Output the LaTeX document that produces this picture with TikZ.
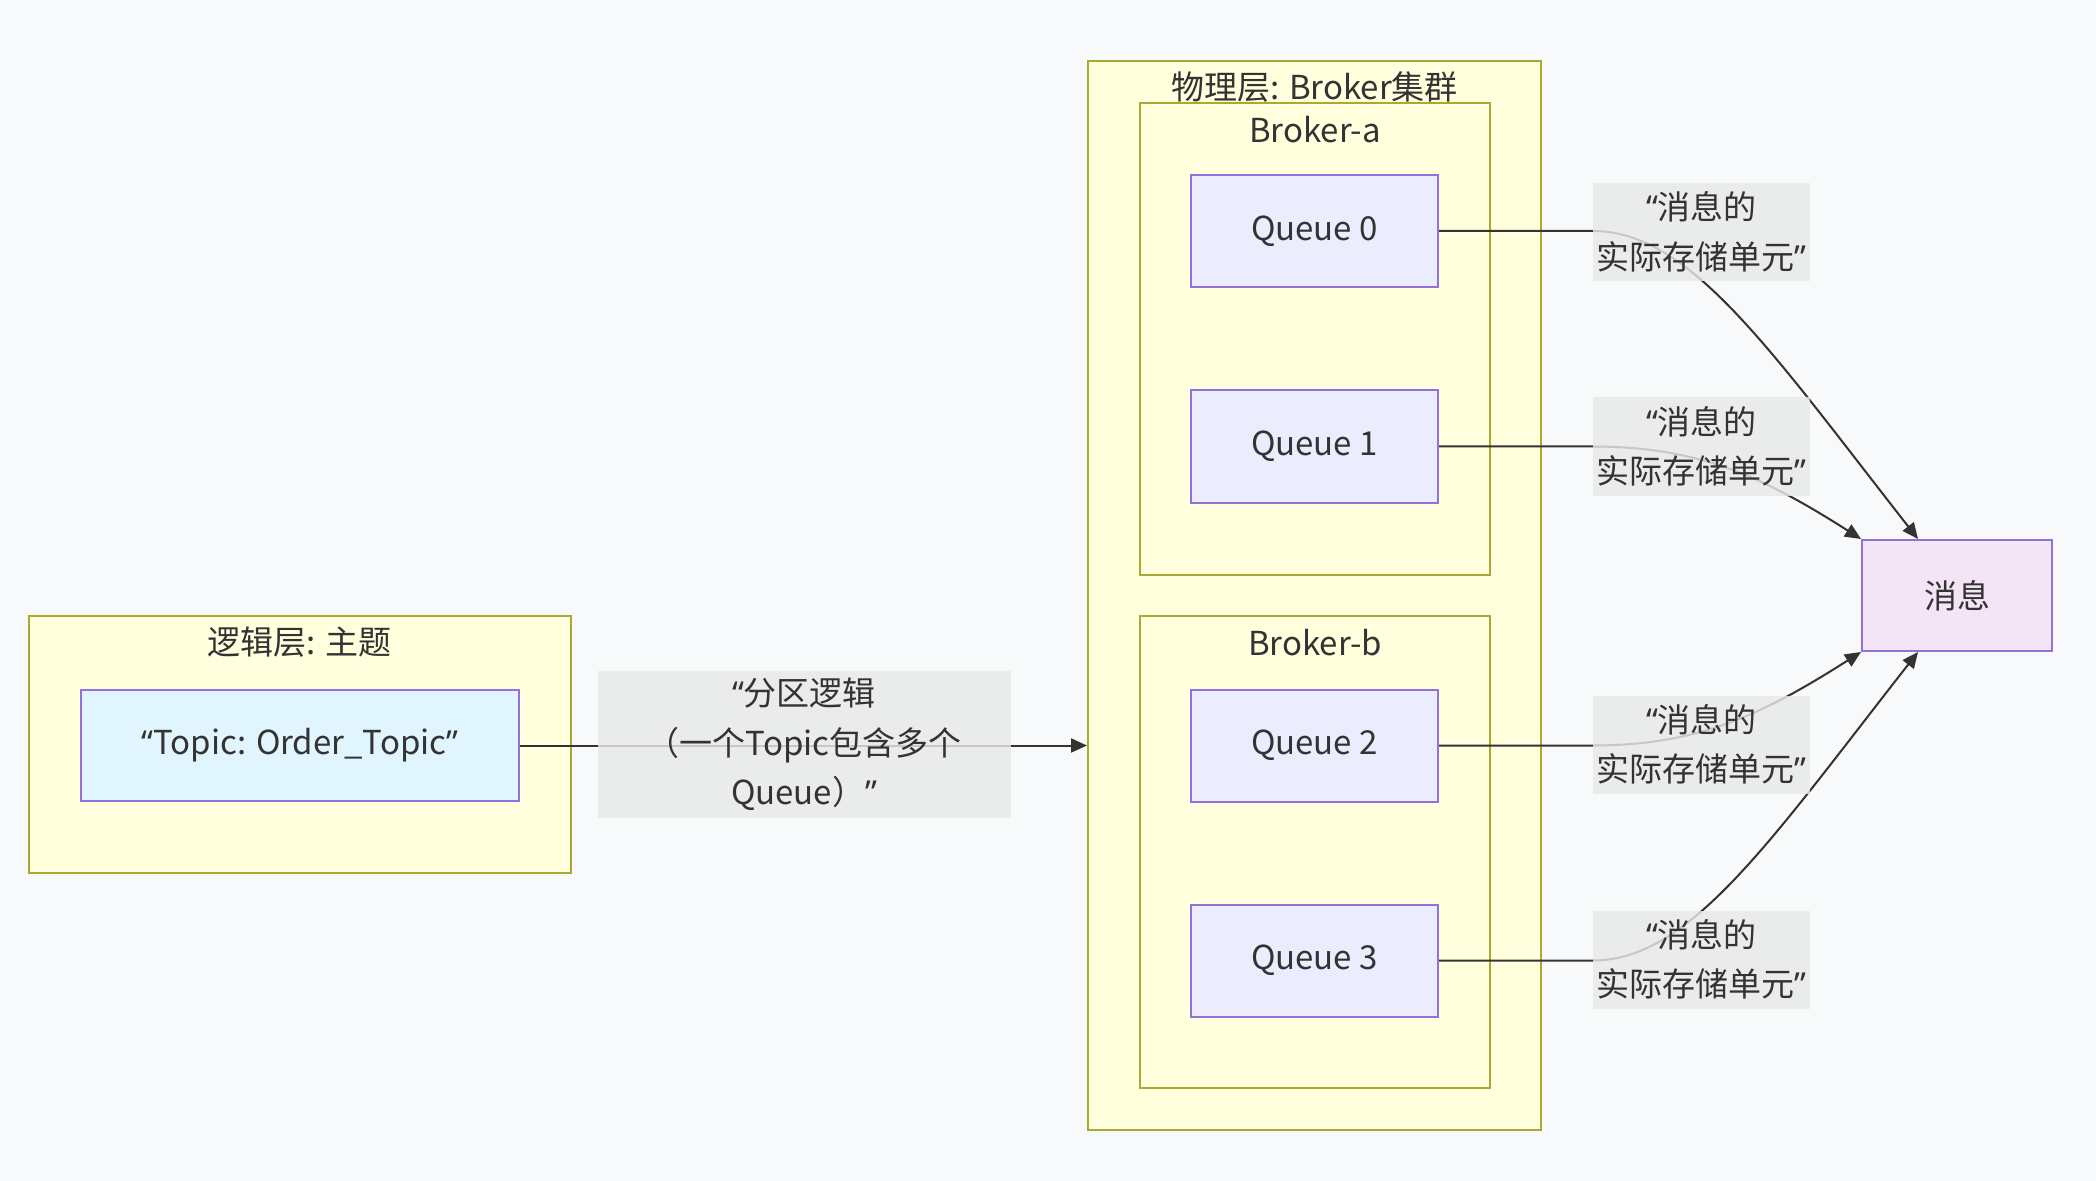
\documentclass[tikz,border=0pt]{standalone}
\usepackage{fontspec}
\setmainfont{Noto Sans CJK SC}
\newfontfamily\qf{Noto Sans}
\usetikzlibrary{arrows.meta}
\definecolor{bgc}{HTML}{F8F9FB}
\definecolor{clfill}{HTML}{FFFFDE}
\definecolor{clline}{HTML}{AAAA33}
\definecolor{nfill}{HTML}{ECECFF}
\definecolor{nline}{HTML}{9370DB}
\definecolor{topicfill}{HTML}{E1F5FE}
\definecolor{msgfill}{HTML}{F3E5F5}
\definecolor{lblfill}{HTML}{E8E8E8}
\definecolor{txt}{HTML}{333333}
\newcommand\qo{{\qf “}}
\newcommand\qc{{\qf ”}}
\newcommand\dn[1]{\raisebox{-1.3pt}{#1}}
\tikzset{
  cluster/.style={draw=clline, fill=clfill, line width=1pt, inner sep=0pt},
  qnode/.style={draw=nline, fill=nfill, line width=1pt, inner sep=0pt, minimum width=123.5pt, minimum height=56pt, text=txt},
  elabel/.style={fill=lblfill, fill opacity=0.82, text opacity=1, inner sep=0pt, text=txt, align=center},
  ctitle/.style={text=txt, inner sep=0pt},
  conn/.style={draw=txt, line width=1pt, -{Triangle[length=8pt,width=7pt]}},
}
\begin{document}
\begin{tikzpicture}[x=0.5pt,y=-0.5pt,font=\fontsize{16.5}{24.75}\selectfont]
\fill[bgc] (0,0) rectangle (2096,1181);
\useasboundingbox (0,0) rectangle (2096,1181);
% clusters
\node[cluster, minimum width=271pt, minimum height=128.5pt] (logic) at (300,744.5) {};
\node[ctitle] (logict) at (300,642) {逻辑层: 主题};
\node[cluster, minimum width=226.5pt, minimum height=534pt] (phys) at (1314.5,595.5) {};
\node[ctitle] (physt) at (1314.5,87.5) {物理层: Broker集群};
\node[cluster, minimum width=175pt, minimum height=236pt] (ba) at (1315,339) {};
\node[ctitle] (bat) at (1315,129.5) {Broker-a};
\node[cluster, minimum width=175pt, minimum height=236pt] (bb) at (1315,852) {};
\node[ctitle] (bbt) at (1315,642.5) {Broker-b};
% nodes
\node[qnode, fill=topicfill, minimum width=218.75pt, minimum height=55.5pt] (topic) at (300,745.5) {\dn{\qo Topic: Order\_Topic\qc}};
\node[qnode] (q0) at (1314.5,231) {\dn{Queue 0}};
\node[qnode] (q1) at (1314.5,446.5) {\dn{Queue 1}};
\node[qnode] (q2) at (1314.5,745.5) {\dn{Queue 2}};
\node[qnode] (q3) at (1314.5,960.5) {\dn{Queue 3}};
\node[qnode, fill=msgfill, minimum width=95pt, minimum height=55.5pt] (msg) at (1957,595.5) {\dn{消息}};
% connectors
\draw[conn] (topic.east) -- (phys.west |- topic.east);
\draw[conn] (q0.east) -- (1593,231) .. controls (1690,231) and (1770,350) .. ([xshift=-19.5pt]msg.north);
\draw[conn] (q1.east) -- (1593,446.5) .. controls (1700,446.5) and (1765,478) .. (msg.north west);
\draw[conn] (q2.east) -- (1593,745.5) .. controls (1700,745.5) and (1765,713) .. (msg.south west);
\draw[conn] (q3.east) -- (1593,960.5) .. controls (1690,960.5) and (1770,841) .. ([xshift=-19.5pt]msg.south);
% edge labels
\node[elabel, minimum width=206.5pt, minimum height=73.5pt] (l0) at (804,744.5) {\qo 分区逻辑\\（一个Topic包含多个\\Queue）\qc};
\node[elabel, minimum width=108.5pt, minimum height=49pt] (l1) at (1701.5,232) {\qo 消息的\\实际存储单元\qc};
\node[elabel, minimum width=108.5pt, minimum height=49pt] (l2) at (1701.5,446.5) {\qo 消息的\\实际存储单元\qc};
\node[elabel, minimum width=108.5pt, minimum height=49pt] (l3) at (1701.5,744.5) {\qo 消息的\\实际存储单元\qc};
\node[elabel, minimum width=108.5pt, minimum height=49pt] (l4) at (1701.5,959.5) {\qo 消息的\\实际存储单元\qc};
\end{tikzpicture}
\end{document}
